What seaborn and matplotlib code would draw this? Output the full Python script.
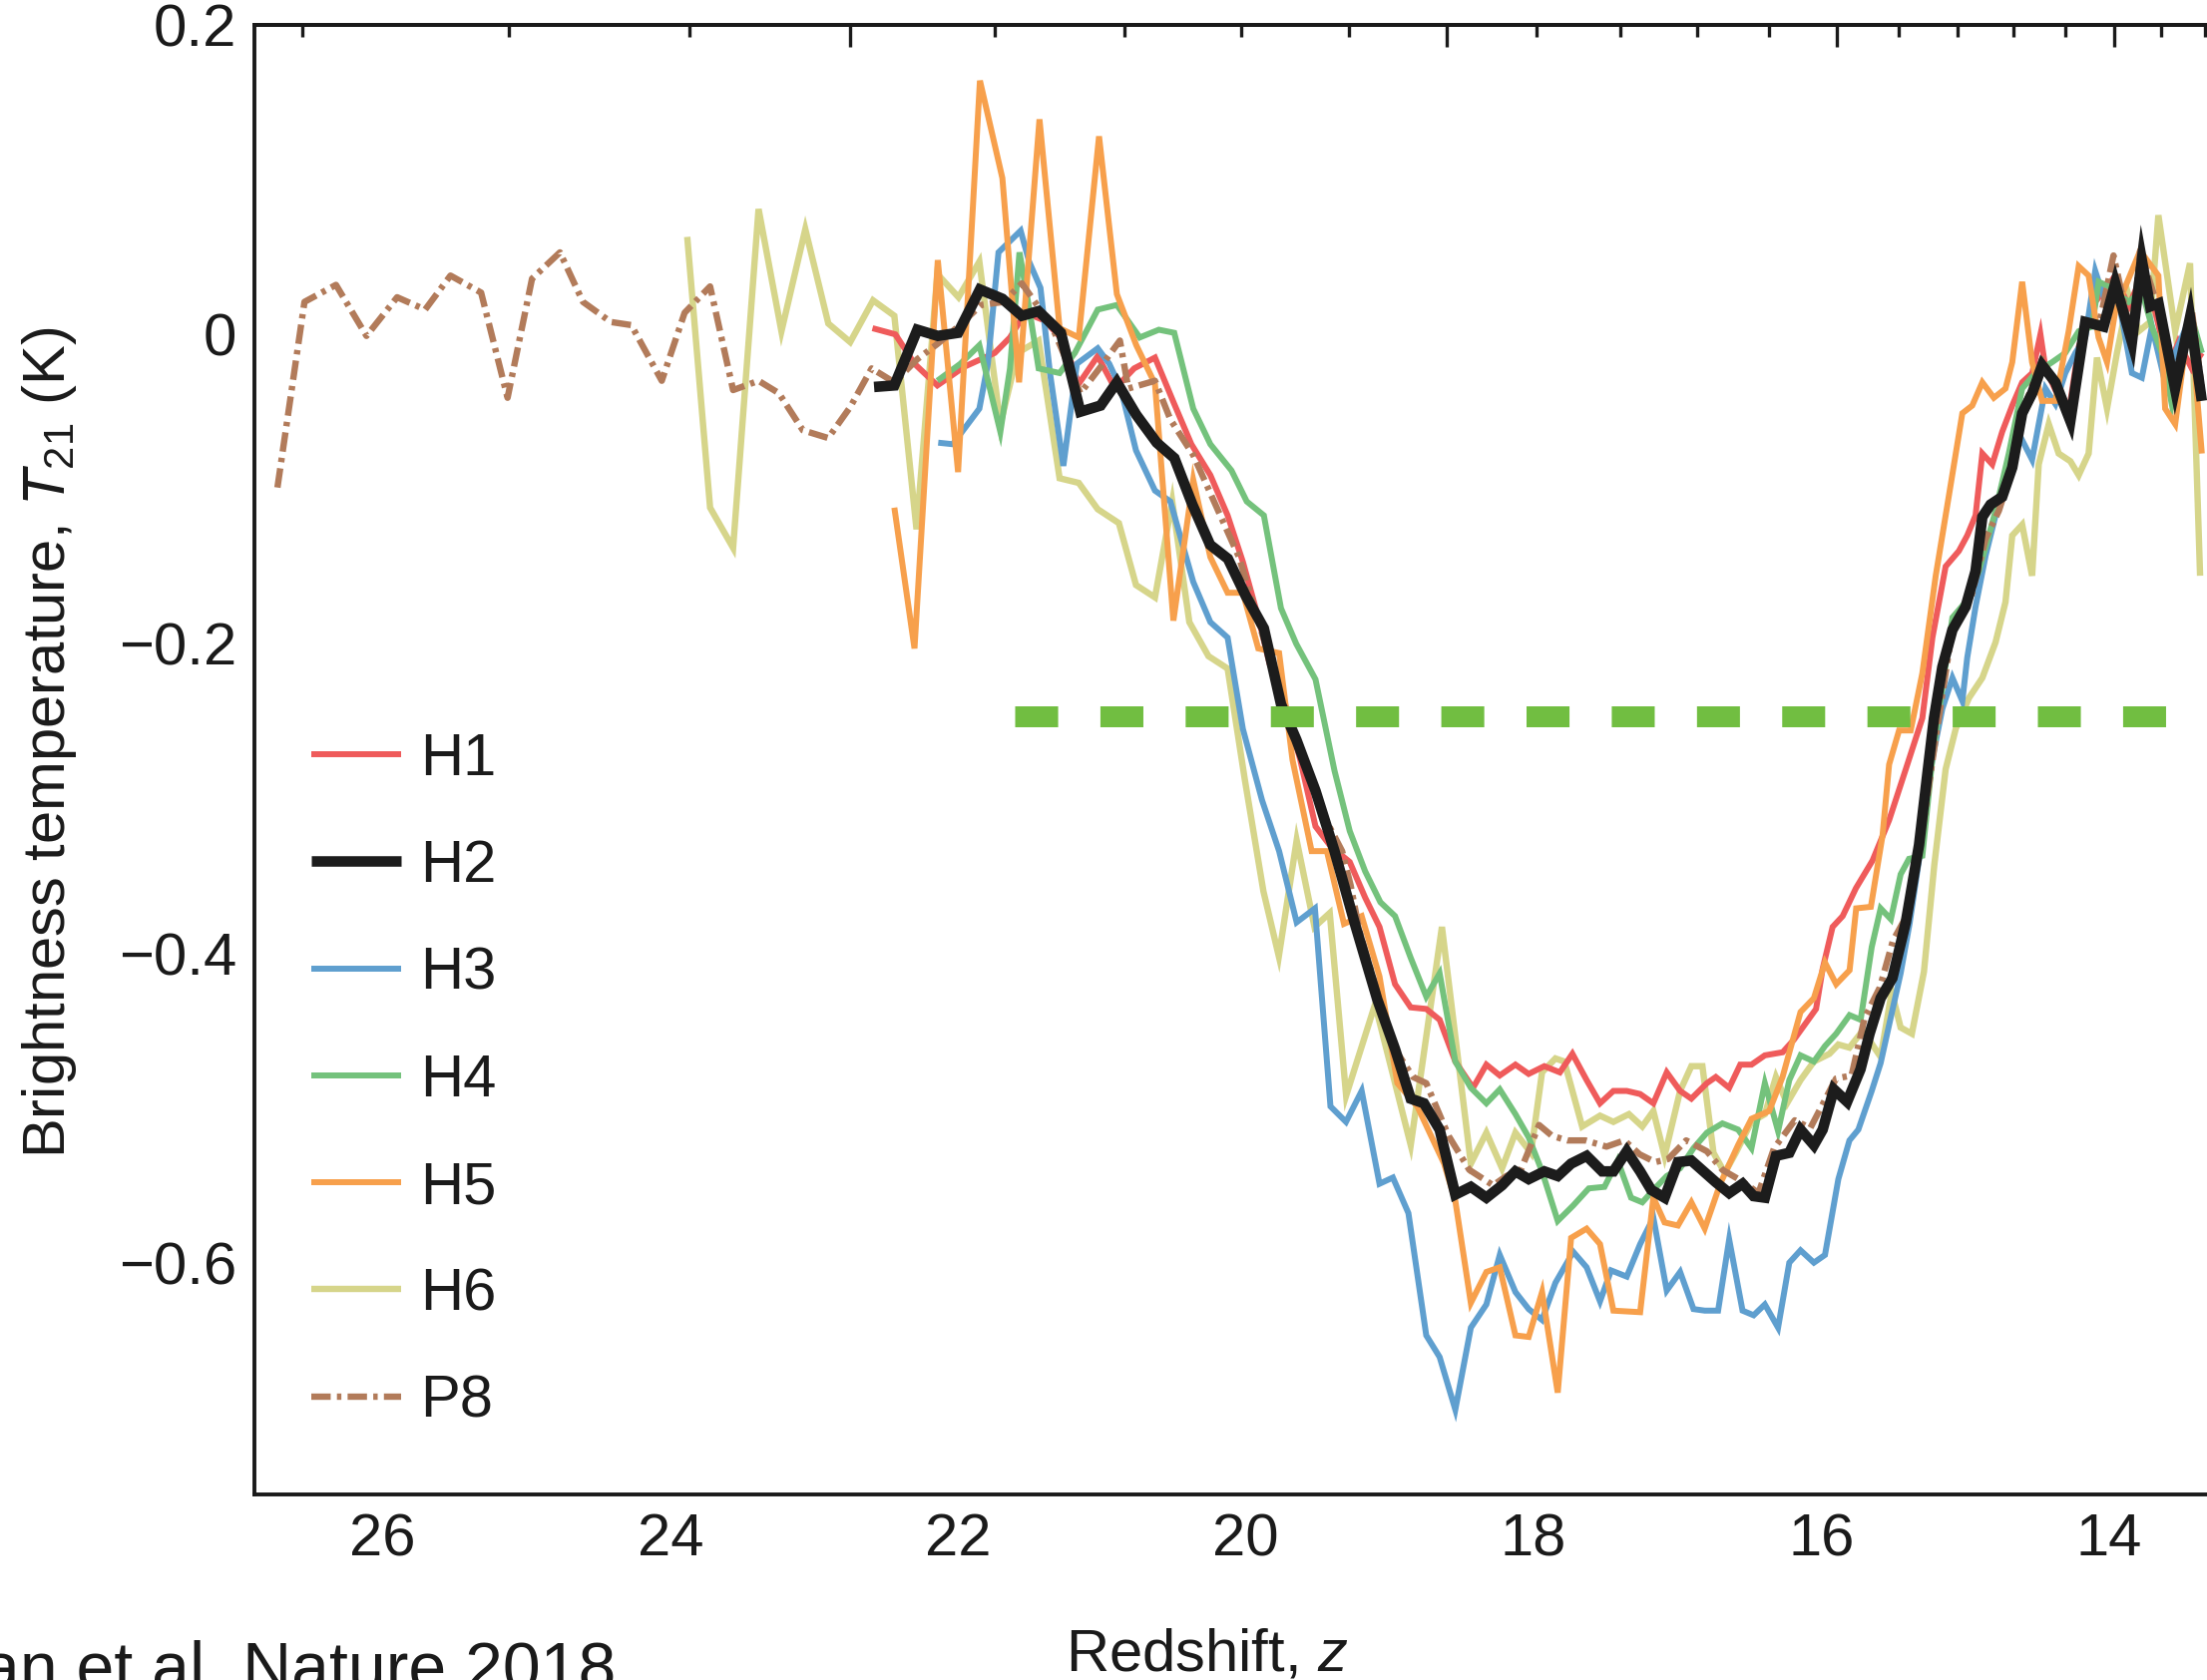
import numpy as np
import pandas as pd
import matplotlib
matplotlib.use("Agg")
import matplotlib.pyplot as plt
import seaborn as sns

# ---------------- data (redshift z, brightness temperature T21 in K) ----------------
H1_z = [22.596, 22.437, 22.304, 22.145, 21.959, 21.746, 21.640, 21.534, 21.401, 21.268,
        21.162, 21.030, 20.910, 20.777, 20.632, 20.498, 20.379, 20.247, 20.127, 20.021,
        19.914, 19.835, 19.728, 19.622, 19.516, 19.410, 19.278, 19.171, 19.071, 18.963,
        18.854, 18.746, 18.653, 18.544, 18.421, 18.328, 18.235, 18.126, 18.034, 17.925,
        17.817, 17.730, 17.631, 17.538, 17.445, 17.352, 17.259, 17.167, 17.074, 16.981,
        16.903, 16.795, 16.733, 16.640, 16.563, 16.485, 16.392, 16.268, 16.191, 16.129,
        16.036, 15.990, 15.921, 15.851, 15.759, 15.643, 15.528, 15.412, 15.297, 15.227,
        15.135, 15.043, 14.985, 14.927, 14.880, 14.811, 14.742, 14.672, 14.603, 14.533,
        14.476, 14.441, 14.372, 14.280, 14.210, 14.095, 14.025, 13.956, 13.863, 13.771,
        13.678, 13.586, 13.517, 13.424, 13.354]
H1_T = [0.004, 0.000, -0.019, -0.033, -0.021, -0.012, -0.002, 0.014, 0.009, -0.004,
        -0.032, -0.014, -0.035, -0.022, -0.015, -0.045, -0.071, -0.091, -0.117, -0.147,
        -0.183, -0.213, -0.239, -0.275, -0.318, -0.331, -0.341, -0.364, -0.383, -0.420,
        -0.435, -0.436, -0.443, -0.470, -0.487, -0.472, -0.479, -0.472, -0.478, -0.473,
        -0.477, -0.465, -0.482, -0.497, -0.489, -0.489, -0.491, -0.497, -0.477, -0.489,
        -0.494, -0.484, -0.480, -0.487, -0.472, -0.472, -0.466, -0.464, -0.456, -0.448,
        -0.436, -0.410, -0.383, -0.376, -0.358, -0.340, -0.314, -0.281, -0.248, -0.196,
        -0.150, -0.140, -0.130, -0.117, -0.077, -0.084, -0.063, -0.046, -0.031, -0.025,
        0.000, -0.022, -0.036, -0.051, -0.008, 0.021, 0.029, 0.038, 0.018, 0.038,
        0.015, -0.022, -0.005, -0.022, -0.012]

H2_z = [22.585, 22.444, 22.284, 22.142, 22.001, 21.849, 21.693, 21.558, 21.442, 21.286,
        21.151, 21.010, 20.897, 20.762, 20.620, 20.497, 20.372, 20.249, 20.125, 20.001,
        19.875, 19.756, 19.649, 19.516, 19.384, 19.242, 19.086, 18.963, 18.854, 18.762,
        18.653, 18.544, 18.436, 18.328, 18.219, 18.126, 18.034, 17.925, 17.832, 17.739,
        17.631, 17.523, 17.445, 17.352, 17.259, 17.182, 17.089, 16.996, 16.903, 16.733,
        16.640, 16.547, 16.470, 16.392, 16.315, 16.222, 16.144, 16.051, 15.990, 15.912,
        15.820, 15.727, 15.664, 15.587, 15.505, 15.412, 15.320, 15.262, 15.216, 15.158,
        15.088, 14.996, 14.927, 14.880, 14.823, 14.742, 14.672, 14.603, 14.533, 14.464,
        14.372, 14.268, 14.164, 14.037, 13.956, 13.840, 13.771, 13.713, 13.655, 13.540,
        13.436, 13.354]
H2_T = [-0.034, -0.033, 0.003, -0.001, 0.001, 0.029, 0.023, 0.012, 0.015, 0.001,
        -0.050, -0.046, -0.031, -0.052, -0.070, -0.080, -0.110, -0.136, -0.145, -0.169,
        -0.190, -0.239, -0.262, -0.295, -0.334, -0.381, -0.430, -0.462, -0.494, -0.497,
        -0.514, -0.556, -0.551, -0.558, -0.550, -0.541, -0.546, -0.541, -0.544, -0.536,
        -0.531, -0.541, -0.541, -0.528, -0.541, -0.553, -0.558, -0.535, -0.534, -0.548,
        -0.555, -0.549, -0.557, -0.558, -0.531, -0.529, -0.514, -0.524, -0.514, -0.488,
        -0.496, -0.475, -0.452, -0.429, -0.416, -0.380, -0.330, -0.284, -0.248, -0.215,
        -0.191, -0.176, -0.153, -0.118, -0.110, -0.105, -0.086, -0.051, -0.038, -0.020,
        -0.031, -0.056, 0.008, 0.005, 0.033, -0.005, 0.048, 0.018, 0.020, -0.035,
        0.011, -0.043]

H3_z = [22.139, 22.038, 21.853, 21.794, 21.720, 21.566, 21.507, 21.428, 21.362, 21.269,
        21.175, 21.030, 20.950, 20.870, 20.764, 20.632, 20.525, 20.366, 20.247, 20.127,
        20.021, 19.888, 19.769, 19.647, 19.520, 19.412, 19.304, 19.195, 19.071, 18.978,
        18.870, 18.746, 18.653, 18.544, 18.436, 18.328, 18.235, 18.126, 18.034, 17.941,
        17.848, 17.724, 17.631, 17.538, 17.461, 17.352, 17.259, 17.167, 17.074, 16.981,
        16.888, 16.810, 16.717, 16.640, 16.547, 16.470, 16.392, 16.300, 16.222, 16.144,
        16.051, 15.974, 15.881, 15.804, 15.742, 15.649, 15.587, 15.525, 15.448, 15.386,
        15.308, 15.227, 15.158, 15.088, 15.019, 14.985, 14.927, 14.857, 14.788, 14.719,
        14.627, 14.534, 14.488, 14.441, 14.372, 14.303, 14.233, 14.164, 14.095, 14.025,
        13.956, 13.840, 13.771, 13.701, 13.609, 13.539, 13.447, 13.354]
H3_T = [-0.070, -0.071, -0.048, -0.019, 0.053, 0.067, 0.047, 0.030, -0.025, -0.085,
        -0.019, -0.009, -0.019, -0.035, -0.075, -0.101, -0.108, -0.160, -0.186, -0.196,
        -0.255, -0.301, -0.334, -0.380, -0.371, -0.499, -0.509, -0.489, -0.549, -0.545,
        -0.568, -0.647, -0.661, -0.695, -0.642, -0.627, -0.595, -0.619, -0.630, -0.637,
        -0.613, -0.593, -0.603, -0.625, -0.605, -0.609, -0.588, -0.571, -0.618, -0.606,
        -0.630, -0.631, -0.631, -0.585, -0.631, -0.634, -0.627, -0.642, -0.600, -0.592,
        -0.600, -0.595, -0.546, -0.521, -0.514, -0.489, -0.471, -0.445, -0.413, -0.381,
        -0.332, -0.274, -0.242, -0.222, -0.237, -0.209, -0.176, -0.143, -0.117, -0.100,
        -0.064, -0.081, -0.058, -0.035, -0.045, -0.025, -0.012, -0.002, 0.041, 0.021,
        0.034, -0.025, -0.028, 0.005, -0.031, -0.012, 0.008, -0.012]

H4_z = [22.145, 21.985, 21.853, 21.707, 21.640, 21.574, 21.507, 21.441, 21.295, 21.189,
        21.030, 20.897, 20.738, 20.605, 20.498, 20.366, 20.247, 20.100, 19.994, 19.875,
        19.756, 19.650, 19.516, 19.384, 19.278, 19.171, 19.065, 18.963, 18.854, 18.746,
        18.653, 18.544, 18.436, 18.328, 18.235, 18.126, 18.034, 17.941, 17.832, 17.724,
        17.616, 17.507, 17.415, 17.322, 17.244, 17.167, 17.074, 16.981, 16.888, 16.795,
        16.687, 16.578, 16.485, 16.392, 16.300, 16.222, 16.144, 16.051, 15.974, 15.896,
        15.803, 15.726, 15.649, 15.587, 15.516, 15.448, 15.390, 15.297, 15.227, 15.088,
        14.996, 14.904, 14.788, 14.696, 14.603, 14.511, 14.395, 14.303, 14.210, 14.117,
        14.071, 14.002, 13.863, 13.771, 13.701, 13.632, 13.563, 13.517, 13.424, 13.354]
H4_T = [-0.030, -0.019, -0.007, -0.063, -0.022, 0.053, 0.017, -0.022, -0.025, -0.012,
        0.016, 0.019, -0.002, 0.003, 0.001, -0.048, -0.071, -0.088, -0.108, -0.117,
        -0.177, -0.200, -0.223, -0.282, -0.321, -0.347, -0.367, -0.376, -0.403, -0.428,
        -0.413, -0.470, -0.487, -0.497, -0.488, -0.504, -0.519, -0.541, -0.573, -0.563,
        -0.552, -0.551, -0.534, -0.558, -0.561, -0.553, -0.544, -0.539, -0.526, -0.516,
        -0.510, -0.514, -0.526, -0.484, -0.515, -0.482, -0.466, -0.470, -0.460, -0.452,
        -0.440, -0.443, -0.396, -0.371, -0.378, -0.349, -0.339, -0.337, -0.274, -0.183,
        -0.173, -0.153, -0.114, -0.077, -0.035, -0.025, -0.018, -0.012, 0.002, 0.005,
        0.034, 0.031, 0.021, 0.028, 0.005, -0.012, -0.045, -0.022, 0.011, -0.012]

H5_z = [22.444, 22.304, 22.142, 22.001, 21.849, 21.693, 21.577, 21.435, 21.295, 21.162,
        21.021, 20.897, 20.762, 20.632, 20.504, 20.366, 20.247, 20.127, 20.021, 19.914,
        19.769, 19.676, 19.543, 19.437, 19.318, 19.195, 19.071, 18.947, 18.808, 18.622,
        18.544, 18.436, 18.328, 18.235, 18.126, 18.034, 17.941, 17.832, 17.739, 17.631,
        17.538, 17.445, 17.259, 17.167, 17.089, 16.996, 16.903, 16.810, 16.702, 16.578,
        16.485, 16.362, 16.269, 16.144, 16.051, 15.974, 15.896, 15.803, 15.757, 15.655,
        15.574, 15.528, 15.459, 15.378, 15.297, 15.204, 15.112, 15.019, 14.950, 14.880,
        14.800, 14.719, 14.672, 14.603, 14.534, 14.464, 14.372, 14.280, 14.210, 14.141,
        14.072, 14.013, 13.956, 13.783, 13.656, 13.609, 13.539, 13.436, 13.354]
H5_T = [-0.112, -0.203, 0.048, -0.089, 0.164, 0.101, -0.031, 0.139, 0.004, -0.002,
        0.128, 0.026, -0.007, -0.032, -0.185, -0.094, -0.144, -0.167, -0.167, -0.203,
        -0.206, -0.275, -0.334, -0.334, -0.381, -0.376, -0.415, -0.484, -0.499, -0.536,
        -0.560, -0.626, -0.606, -0.603, -0.647, -0.648, -0.619, -0.684, -0.584, -0.578,
        -0.588, -0.631, -0.632, -0.558, -0.574, -0.576, -0.561, -0.578, -0.549, -0.524,
        -0.507, -0.502, -0.480, -0.438, -0.429, -0.406, -0.420, -0.411, -0.371, -0.370,
        -0.324, -0.278, -0.256, -0.256, -0.219, -0.156, -0.104, -0.051, -0.046, -0.031,
        -0.041, -0.035, -0.018, 0.034, -0.018, -0.043, -0.043, 0.002, 0.044, 0.038,
        -0.002, -0.018, 0.015, 0.054, 0.038, -0.048, -0.058, 0.015, -0.077]

H6_z = [23.884, 23.725, 23.565, 23.388, 23.229, 23.063, 22.903, 22.751, 22.592, 22.444,
        22.290, 22.145, 21.998, 21.853, 21.707, 21.587, 21.441, 21.295, 21.162, 21.030,
        20.883, 20.764, 20.632, 20.512, 20.393, 20.260, 20.127, 20.007, 19.878, 19.771,
        19.647, 19.523, 19.417, 19.303, 19.102, 18.854, 18.637, 18.436, 18.328, 18.219,
        18.126, 18.018, 17.941, 17.848, 17.786, 17.662, 17.538, 17.445, 17.337, 17.244,
        17.167, 17.089, 16.981, 16.903, 16.826, 16.749, 16.671, 16.594, 16.485, 16.392,
        16.315, 16.238, 16.144, 16.051, 15.943, 15.881, 15.804, 15.711, 15.587, 15.510,
        15.448, 15.370, 15.286, 15.214, 15.135, 15.065, 14.973, 14.880, 14.788, 14.719,
        14.672, 14.603, 14.534, 14.488, 14.418, 14.349, 14.268, 14.210, 14.141, 14.083,
        14.013, 13.944, 13.863, 13.793, 13.713, 13.656, 13.539, 13.436, 13.366]
H6_T = [0.063, -0.112, -0.138, 0.081, 0.002, 0.068, 0.007, -0.005, 0.022, 0.012,
        -0.126, 0.039, 0.024, 0.047, -0.058, -0.012, -0.004, -0.093, -0.096, -0.113,
        -0.122, -0.162, -0.170, -0.108, -0.186, -0.208, -0.216, -0.288, -0.360, -0.402,
        -0.327, -0.383, -0.374, -0.492, -0.433, -0.524, -0.383, -0.536, -0.516, -0.539,
        -0.516, -0.529, -0.477, -0.468, -0.470, -0.512, -0.505, -0.509, -0.504, -0.512,
        -0.502, -0.531, -0.489, -0.473, -0.473, -0.529, -0.542, -0.529, -0.509, -0.504,
        -0.480, -0.497, -0.482, -0.470, -0.465, -0.459, -0.461, -0.450, -0.467, -0.425,
        -0.448, -0.452, -0.412, -0.343, -0.281, -0.255, -0.235, -0.222, -0.199, -0.173,
        -0.130, -0.123, -0.156, -0.084, -0.058, -0.077, -0.082, -0.091, -0.077, -0.015,
        -0.048, -0.012, 0.025, 0.002, 0.008, 0.077, 0.002, 0.046, -0.156]

P8_z = [26.733, 26.545, 26.326, 26.114, 25.901, 25.706, 25.530, 25.317, 25.133, 24.963,
        24.769, 24.609, 24.415, 24.273, 24.061, 23.902, 23.725, 23.565, 23.388, 23.247,
        23.080, 22.904, 22.751, 22.602, 22.444, 22.284, 22.142, 22.001, 21.841, 21.683,
        21.558, 21.452, 21.329, 21.151, 21.010, 20.876, 20.817, 20.632, 20.525, 20.366,
        20.207, 20.048, 19.941, 19.835, 19.702, 19.570, 19.437, 19.331, 19.272, 19.210,
        18.978, 18.838, 18.746, 18.591, 18.447, 18.281, 18.189, 18.088, 17.962, 17.872,
        17.765, 17.639, 17.493, 17.369, 17.262, 17.154, 17.064, 16.939, 16.795, 16.687,
        16.557, 16.436, 16.328, 16.184, 16.076, 15.897, 15.789, 15.699, 15.592, 15.502,
        15.413, 15.308, 15.204, 15.088, 14.961, 14.857, 14.765, 14.672, 14.580, 14.464,
        14.372, 14.268, 14.164, 14.060, 13.968, 13.840, 13.783, 13.678, 13.539, 13.424,
        13.354]
P8_T = [-0.099, 0.021, 0.032, -0.001, 0.024, 0.016, 0.038, 0.027, -0.041, 0.036,
        0.053, 0.021, 0.008, 0.006, -0.030, 0.014, 0.031, -0.036, -0.030, -0.038,
        -0.062, -0.067, -0.047, -0.022, -0.031, -0.016, -0.006, 0.005, 0.019, 0.021,
        0.033, 0.019, 0.001, -0.038, -0.021, -0.004, -0.035, -0.030, -0.055, -0.078,
        -0.111, -0.144, -0.177, -0.209, -0.252, -0.282, -0.315, -0.334, -0.356, -0.386,
        -0.460, -0.480, -0.484, -0.518, -0.540, -0.550, -0.544, -0.540, -0.511, -0.518,
        -0.521, -0.521, -0.525, -0.521, -0.530, -0.535, -0.533, -0.521, -0.528, -0.540,
        -0.547, -0.555, -0.526, -0.508, -0.513, -0.481, -0.479, -0.442, -0.422, -0.392,
        -0.377, -0.328, -0.261, -0.190, -0.171, -0.132, -0.114, -0.087, -0.045, -0.016,
        -0.032, -0.058, 0.006, 0.010, 0.051, -0.003, 0.054, 0.023, -0.029, 0.016,
        -0.035]

# horizontal reference level (green dashed)
REF_z = [21.61, 13.60]
REF_T = [-0.247, -0.247]

# tick values / labels
x_ticks = [26, 24, 22, 20, 18, 16, 14]
y_ticks = [-0.6, -0.4, -0.2, 0.0, 0.2]
y_tick_labels = ["\u22120.6", "\u22120.4", "\u22120.2", "0", "0.2"]
age_major = [150, 200, 250, 300]          # age of the Universe (Myr), top axis
age_minor = list(range(120, 330, 10))

# ---------------- style ----------------
sns.set_theme(style="white")
plt.rcParams["font.family"] = ["Liberation Sans", "DejaVu Sans"]
plt.rcParams["mathtext.fontset"] = "custom"
plt.rcParams["mathtext.rm"] = "Liberation Sans"
plt.rcParams["mathtext.it"] = "Liberation Sans:italic"
plt.rcParams["mathtext.bf"] = "Liberation Sans:bold"
plt.rcParams["lines.scale_dashes"] = False
plt.rcParams["axes.unicode_minus"] = True

W, H = 2212, 1684
FS = 43
TXT = "#1a1a1a"

fig = plt.figure(figsize=(W / 100, H / 100), dpi=100)
ax = fig.add_axes([255 / W, 1 - 1498.3 / H, 1 - 255 / W, (1498.3 - 25) / H])

series = [
    ("H6", H6_z, H6_T, "#d6d58a", 4.6, None, 2),
    ("H1", H1_z, H1_T, "#ef5b5b", 4.3, None, 3),
    ("H3", H3_z, H3_T, "#5f9fcf", 4.3, None, 3),
    ("H4", H4_z, H4_T, "#74c27c", 4.3, None, 3),
    ("H5", H5_z, H5_T, "#f7a04c", 4.3, None, 4),
    ("P8", P8_z, P8_T, "#b27b5a", 4.6, [14, 4.5, 3.2, 4.5], 5),
    ("H2", H2_z, H2_T, "#1c1c1c", 7.6, None, 6),
]

handles = {}
for name, zz, tt, col, lw, dash, zo in series:
    df = pd.DataFrame({"z": zz, "T": tt})
    sns.lineplot(data=df, x="z", y="T", ax=ax, color=col, linewidth=lw,
                 sort=False, estimator=None, zorder=zo)
    line = ax.lines[-1]
    line.set_solid_capstyle("butt")
    line.set_solid_joinstyle("miter")
    if dash is not None:
        line.set_dashes(dash)
        line.set_dash_capstyle("butt")
    handles[name] = line

ref_df = pd.DataFrame({"z": REF_z, "T": REF_T})
sns.lineplot(data=ref_df, x="z", y="T", ax=ax, color="#71be41", linewidth=15.1,
             sort=False, estimator=None, zorder=10)
ref_line = ax.lines[-1]
ref_line.set_dashes([31.0, 30.5])
ref_line.set_dash_capstyle("butt")

# ---------------- axes ----------------
ax.set_xlim(26.893, 13.318)
ax.set_ylim(-0.75, 0.2)
ax.set_xticks(x_ticks)
ax.set_xticklabels([str(v) for v in x_ticks])
ax.set_yticks(y_ticks)
ax.set_yticklabels(y_tick_labels)
ax.set_xlabel("")
ax.set_ylabel("")
ax.grid(False)
ax.tick_params(axis="both", which="major", direction="in", length=15.8, width=2.4,
               labelsize=FS, colors=TXT, top=False, right=False)
ax.tick_params(axis="x", pad=13)
ax.tick_params(axis="y", pad=13)
for s in ["left", "bottom", "top"]:
    ax.spines[s].set_linewidth(2.8)
    ax.spines[s].set_color(TXT)
ax.spines["right"].set_visible(False)

K_AGE = 17360.0


def z_to_age(z):
    z = np.asarray(z, dtype=float)
    return K_AGE * np.power(np.clip(1.0 + z, 1e-3, None), -1.5)


def age_to_z(t):
    t = np.asarray(t, dtype=float)
    return np.power(np.clip(t, 1e-3, None) / K_AGE, -2.0 / 3.0) - 1.0


secax = ax.secondary_xaxis("top", functions=(z_to_age, age_to_z))
secax.set_xticks(age_major)
secax.set_xticks(age_minor, minor=True)
secax.tick_params(which="major", direction="in", length=15.8, width=2.4,
                  labeltop=False, colors=TXT)
secax.tick_params(which="minor", direction="in", length=8.6, width=2.4, colors=TXT)
secax.spines["top"].set_linewidth(2.8)
secax.spines["top"].set_color(TXT)

# ---------------- legend ----------------
order = ["H1", "H2", "H3", "H4", "H5", "H6", "P8"]
ax.legend([handles[k] for k in order], order, loc="upper left",
          bbox_to_anchor=(312 / W, 1 - 734 / H), bbox_transform=fig.transFigure,
          frameon=False, fontsize=FS, handlelength=1.5, handletextpad=0.32,
          labelspacing=0.875, borderpad=0, borderaxespad=0, labelcolor=TXT)

# ---------------- labels ----------------
fig.text(50 / W, 1 - 744 / H, "Brightness temperature, $T_{21}$ (K)", rotation=90,
         ha="center", va="center", fontsize=FS, color=TXT)
fig.text(1210 / W, 9 / H, "Redshift, $z$", ha="center", va="baseline",
         fontsize=FS, color=TXT)
# citation: partly outside the picture, cut at the lower/left edge as in the reference
fig.text(617 / W, (H - 1694) / H, "Bowman et al. Nature 2018", ha="right",
         va="baseline", fontsize=49, color=TXT)

fig.savefig("out.png", dpi=100)
